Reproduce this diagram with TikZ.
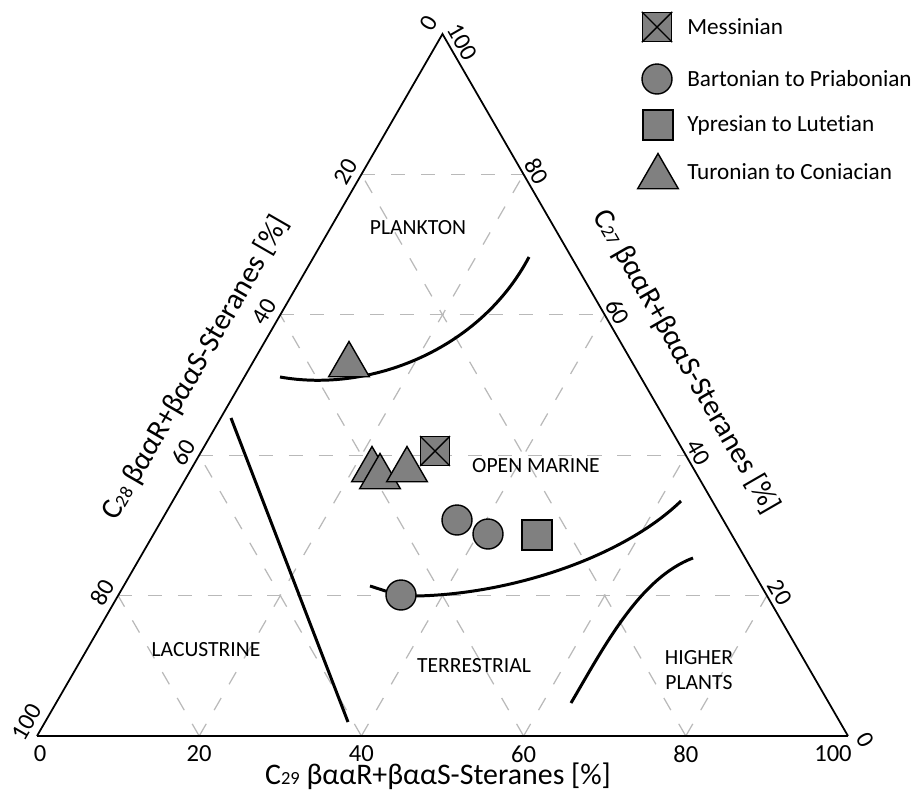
\documentclass[tikz,border=0pt]{standalone}
\usepackage{graphicx}
\usepackage{fontspec}
\setmainfont[Ligatures=NoCommon]{Carlito}
\usetikzlibrary{calc,shapes.geometric}
\newcommand\stidx[1]{\scalebox{0.62}{#1}}

\begin{document}
\begin{tikzpicture}[x=0.02cm,y=-0.02cm,
  grid/.style={gray!55, line width=0.7pt, dash pattern=on 8pt off 9pt},
  bound/.style={black, line width=1pt},
  zone/.style={black, line width=1.7pt},
  mk/.style={draw=black, fill=gray, line width=0.8pt, inner sep=0pt},
  tri/.style={mk, regular polygon, regular polygon sides=3, minimum size=0.94cm},
  cir/.style={mk, circle, minimum size=0.6cm},
  sqr/.style={mk, rectangle, minimum size=0.6cm},
  tick/.style={font=\fontsize{14}{14}\selectfont, inner sep=0pt},
  zonelbl/.style={font=\fontsize{12.3}{14}\selectfont, align=center, inner sep=0pt},
  ttl/.style={font=\fontsize{17}{17}\selectfont, inner sep=0pt},
  leg/.style={font=\fontsize{13.2}{14}\selectfont, anchor=west, inner sep=0pt}]
\useasboundingbox (0,0) rectangle (914,795);
\coordinate (lft) at (37,736);
\coordinate (rgt) at (848,736);
\coordinate (top) at (442.5,34);

\draw[grid] ($(top)!0.2!(lft)$) -- ($(top)!0.2!(rgt)$);
\draw[grid] ($(top)!0.4!(lft)$) -- ($(top)!0.4!(rgt)$);
\draw[grid] ($(top)!0.6!(lft)$) -- ($(top)!0.6!(rgt)$);
\draw[grid] ($(top)!0.8!(lft)$) -- ($(top)!0.8!(rgt)$);
\draw[grid] ($(lft)!0.2!(rgt)$) -- ($(lft)!0.2!(top)$);
\draw[grid] ($(lft)!0.4!(rgt)$) -- ($(lft)!0.4!(top)$);
\draw[grid] ($(lft)!0.6!(rgt)$) -- ($(lft)!0.6!(top)$);
\draw[grid] ($(lft)!0.8!(rgt)$) -- ($(lft)!0.8!(top)$);
\draw[grid] ($(lft)!0.2!(rgt)$) -- ($(rgt)!0.8!(top)$);
\draw[grid] ($(lft)!0.4!(rgt)$) -- ($(rgt)!0.6!(top)$);
\draw[grid] ($(lft)!0.6!(rgt)$) -- ($(rgt)!0.4!(top)$);
\draw[grid] ($(lft)!0.8!(rgt)$) -- ($(rgt)!0.2!(top)$);

\draw[bound] (lft) -- (top) -- (rgt);
\draw[bound, line width=1.5pt] (lft) -- (rgt);

\node[tick, rotate=60] (l0) at ($(top)+(-14,-11)$) {0};
\node[tick, rotate=60] (l20) at ($(top)!0.2!(lft)+(-16,-3)$) {20};
\node[tick, rotate=60] (l40) at ($(top)!0.4!(lft)+(-16,-3)$) {40};
\node[tick, rotate=60] (l60) at ($(top)!0.6!(lft)+(-16,-3)$) {60};
\node[tick, rotate=60] (l80) at ($(top)!0.8!(lft)+(-16,-3)$) {80};
\node[tick, rotate=60] (l100) at ($(lft)+(-10,-14)$) {100};
\node[tick, rotate=-60] (r0) at ($(rgt)+(17,4)$) {0};
\node[tick, rotate=-60] (r20) at ($(rgt)!0.2!(top)+(13,-3)$) {20};
\node[tick, rotate=-60] (r40) at ($(rgt)!0.4!(top)+(13,-3)$) {40};
\node[tick, rotate=-60] (r60) at ($(rgt)!0.6!(top)+(13,-3)$) {60};
\node[tick, rotate=-60] (r80) at ($(rgt)!0.8!(top)+(13,-3)$) {80};
\node[tick, rotate=-60] (r100) at ($(top)+(20,8)$) {100};
\node[tick] (b0) at ($(lft)+(3,18)$) {0};
\node[tick] (b20) at ($(lft)!0.2!(rgt)+(0,18)$) {20};
\node[tick] (b40) at ($(lft)!0.4!(rgt)+(0,18)$) {40};
\node[tick] (b60) at ($(lft)!0.6!(rgt)+(0,18)$) {60};
\node[tick] (b80) at ($(lft)!0.8!(rgt)+(0,18)$) {80};
\node[tick] (b100) at ($(rgt)+(-15,18)$) {100};

\node[ttl, rotate=60] (c28) at (196,368) {C\stidx{28} βααR+βααS-Steranes [\%]};
\node[ttl, rotate=-60] (c27) at (686,362) {C\stidx{27} βααR+βααS-Steranes [\%]};
\node[ttl] (c29) at (438,776) {C\stidx{29} βααR+βααS-Steranes [\%]};

\node[zonelbl] (plk) at (418,228) {PLANKTON};
\node[zonelbl] (omar) at (536,466) {OPEN MARINE};
\node[zonelbl] (lac) at (206,650) {LACUSTRINE};
\node[zonelbl] (ter) at (474,666) {TERRESTRIAL};
\node[zonelbl] (hpl) at (699,670) {HIGHER\\PLANTS};

\draw[zone] (280,377) .. controls (370,393) and (480,350) .. (529,257);
\draw[zone] (231,418) -- (348,722);
\draw[zone] (370,586) -- (401,596) .. controls (500,598) and (620,560) .. (681,501);
\draw[zone] (571,703) .. controls (605,645) and (640,578) .. (693,558);

\node[tri] (tri0) at (349,365) {};
\node[tri] (tri1) at (372,470) {};
\node[tri] (tri2) at (380,477) {};
\node[tri] (tri3) at (407,470) {};
\node[sqr, minimum size=0.57cm] (mes) at (435,451) {};
\draw[line width=0.8pt] (mes.north west) -- (mes.south east);
\draw[line width=0.8pt] (mes.north east) -- (mes.south west);
\node[cir] (cir1) at (457,520) {};
\node[cir] (cir2) at (488,534) {};
\node[cir] (cir3) at (401,595) {};
\node[sqr] (ypr) at (537,535) {};

\node[sqr, minimum size=0.58cm] (legmes) at (657,27) {};
\draw[line width=0.8pt] (legmes.north west) -- (legmes.south east);
\draw[line width=0.8pt] (legmes.north east) -- (legmes.south west);
\node[cir] (legcir) at (657,79) {};
\node[sqr] (legsqr) at (658,125) {};
\node[tri] (legtri) at (658,177) {};
\node[leg] (txtmes) at (687,27) {Messinian};
\node[leg] (txtcir) at (687,79) {Bartonian to Priabonian};
\node[leg] (txtsqr) at (687,125) {Ypresian to Lutetian};
\node[leg] (txttri) at (687,172) {Turonian to Coniacian};
\end{tikzpicture}
\end{document}
